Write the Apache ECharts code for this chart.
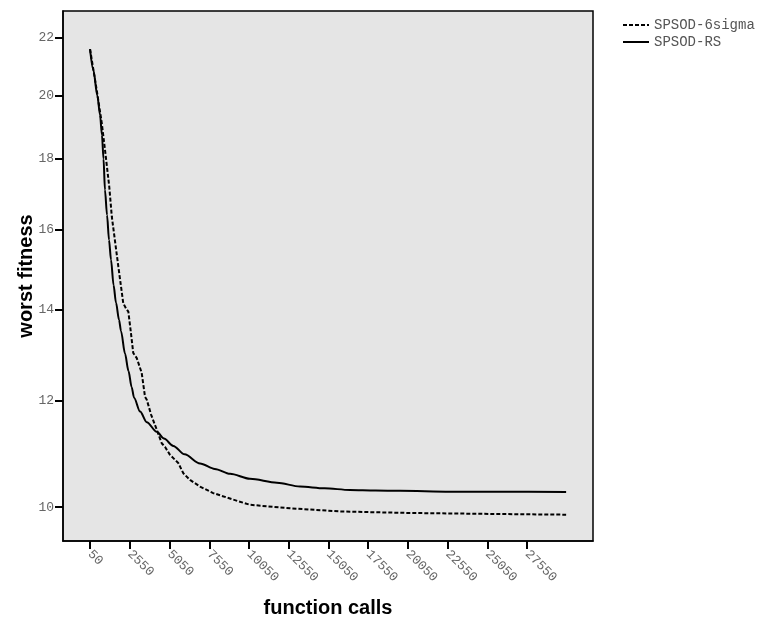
<!DOCTYPE html>
<html>
<head>
<meta charset="utf-8">
<script src="https://cdn.jsdelivr.net/npm/echarts@6/dist/echarts.min.js"></script>
<style>
  html, body { margin: 0; padding: 0; background: #ffffff; }
  #chart { width: 759px; height: 621px; }
</style>
</head>
<body>
<div id="chart"></div>
<script>
// Worst fitness against number of function calls for two SPSOD variants.
const seriesNames = ['SPSOD-6sigma', 'SPSOD-RS'];

// SPSOD-6sigma (dashed)
const sigmaCalls = [50, 470, 790, 1030, 1260, 1420, 1830, 2140, 2310, 2460, 2600, 2770, 2990, 3300, 3510, 3620, 3890, 4250, 4560, 4770, 5080, 5600, 5920, 6340, 6970, 7800, 9060, 10110, 12630, 15770, 19970, 24580, 30000];
const sigmaWorst = [21.58, 20.17, 19.10, 18.12, 17.19, 16.36, 15.05, 14.15, 14.03, 13.95, 13.53, 13.01, 12.90, 12.58, 12.08, 12.02, 11.72, 11.42, 11.16, 11.09, 10.94, 10.79, 10.60, 10.48, 10.36, 10.245, 10.13, 10.04, 9.98, 9.925, 9.90, 9.885, 9.87];

// SPSOD-RS (solid)
const rsCalls = [50, 260, 510, 680, 800, 900, 990, 1120, 1245, 1370, 1530, 1685, 1875, 2000, 2250, 2470, 2670, 2820, 3200, 3620, 4250, 4700, 5290, 6000, 6970, 7900, 8860, 10110, 11810, 13260, 14800, 16400, 18000, 19550, 22690, 25840, 30000];
const rsWorst = [21.58, 20.85, 19.99, 19.36, 18.73, 18.00, 17.10, 16.40, 15.73, 15.22, 14.59, 14.16, 13.76, 13.50, 13.00, 12.62, 12.28, 12.06, 11.78, 11.57, 11.38, 11.25, 11.11, 10.95, 10.78, 10.68, 10.59, 10.50, 10.43, 10.36, 10.33, 10.30, 10.29, 10.285, 10.27, 10.268, 10.266];

// Axis tick labels
const xTicks = [50, 2550, 5050, 7550, 10050, 12550, 15050, 17550, 20050, 22550, 25050, 27550];
const yTicks = [10, 12, 14, 16, 18, 20, 22];

// The fitness axis is logarithmic in (1 + fitness): values are shifted by one
// before being handed to the log axis, and labels shift back.
const SHIFT = 1;
const toPairs = (xs, ys) => xs.map((x, i) => [x, ys[i] + SHIFT]);

const monoFont = '"Liberation Mono", "Courier New", monospace';
const sansFont = '"Liberation Sans", Arial, sans-serif';

const chart = echarts.init(document.getElementById('chart'), null, { renderer: 'canvas' });

chart.setOption({
  animation: false,
  backgroundColor: '#ffffff',
  grid: {
    left: 63, top: 11, right: 166, bottom: 80,
    outerBoundsMode: 'none',
    show: true,
    backgroundColor: '#e5e5e5',
    borderColor: '#000000',
    borderWidth: 1.5
  },
  legend: {
    orient: 'vertical',
    left: 617,
    top: 13,
    itemWidth: 26,
    itemHeight: 10,
    itemGap: 3,
    data: seriesNames,
    itemStyle: { opacity: 0 },
    textStyle: { fontFamily: monoFont, fontSize: 14, color: '#555555' }
  },
  xAxis: {
    type: 'value',
    min: -1650,
    max: 31690,
    name: 'function calls',
    nameLocation: 'middle',
    nameGap: 57,
    nameMoveOverlap: false,
    nameTextStyle: { fontFamily: sansFont, fontWeight: 'bold', fontSize: 20, color: '#000000' },
    axisLine: { show: true, onZero: false, lineStyle: { color: '#000000', width: 1.5 } },
    axisTick: { show: true, length: 8, lineStyle: { color: '#000000', width: 2 }, customValues: xTicks },
    axisLabel: {
      customValues: xTicks,
      rotate: -45,
      margin: 11,
      fontFamily: monoFont,
      fontSize: 13,
      color: '#666666',
      formatter: v => String(v)
    },
    splitLine: { show: false }
  },
  yAxis: {
    type: 'log',
    logBase: Math.E,
    min: 10.43,
    max: 23.97,
    name: 'worst fitness',
    nameLocation: 'middle',
    nameGap: 27,
    nameMoveOverlap: false,
    nameTextStyle: { fontFamily: sansFont, fontWeight: 'bold', fontSize: 20, color: '#000000' },
    axisLine: { show: true, onZero: false, lineStyle: { color: '#000000', width: 1.5 } },
    axisTick: { show: true, length: 8, lineStyle: { color: '#000000', width: 2 }, customValues: yTicks.map(v => v + SHIFT) },
    axisLabel: {
      customValues: yTicks.map(v => v + SHIFT),
      margin: 9,
      fontFamily: monoFont,
      fontSize: 13,
      color: '#666666',
      formatter: v => String(Math.round(v - SHIFT))
    },
    splitLine: { show: false },
    minorSplitLine: { show: false }
  },
  series: [
    {
      name: seriesNames[0],
      type: 'line',
      data: toPairs(sigmaCalls, sigmaWorst),
      showSymbol: false,
      symbol: 'none',
      lineStyle: { color: '#000000', width: 2, type: [4, 2] },
      itemStyle: { color: '#000000' }
    },
    {
      name: seriesNames[1],
      type: 'line',
      data: toPairs(rsCalls, rsWorst),
      showSymbol: false,
      symbol: 'none',
      smooth: 0.3,
      smoothMonotone: 'x',
      lineStyle: { color: '#000000', width: 2, type: 'solid' },
      itemStyle: { color: '#000000' }
    }
  ]
});
</script>
</body>
</html>
